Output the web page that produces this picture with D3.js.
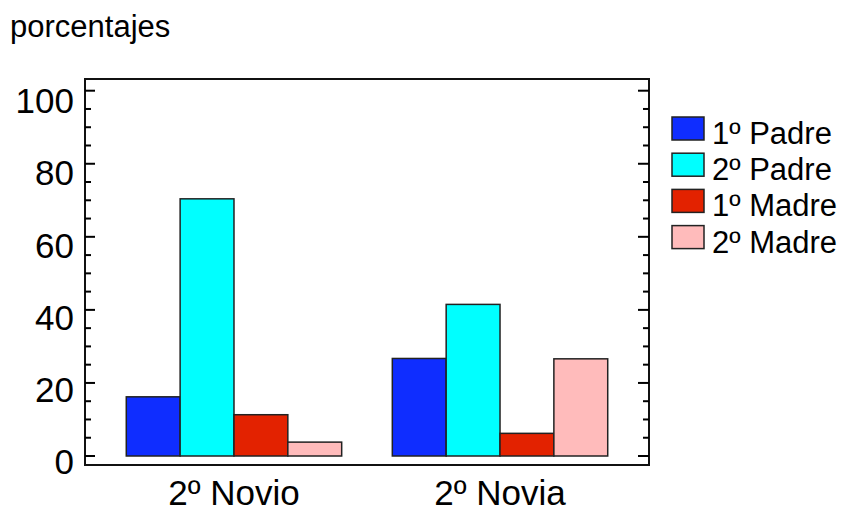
<!DOCTYPE html>
<html><head><meta charset="utf-8">
<script src="https://cdn.jsdelivr.net/npm/d3@7/dist/d3.min.js"></script>
<style>body{margin:0;background:#fff}svg{display:block}text{font-family:"Liberation Sans",Arial,sans-serif;fill:#000}</style>
</head><body>
<svg id="c" width="842" height="512"></svg>
<script>
const groups = ["2º Novio", "2º Novia"];
const series = ["1º Padre", "2º Padre", "1º Madre", "2º Madre"];
const padre1 = [16.2, 26.7];
const padre2 = [70.4, 41.5];
const madre1 = [11.3, 6.2];
const madre2 = [3.8, 26.6];
const colors = ["#0f2dff", "#00ffff", "#e32200", "#ffbbbb"];
const majorTicks = [0, 20, 40, 60, 80, 100];
const minorTicks = d3.range(0, 101, 5).filter(v => v % 20 !== 0);
const yTitle = "porcentajes";

const values = [padre1, padre2, madre1, madre2];
const data = groups.map((g, gi) => ({g, vals: series.map((s, si) => ({s, si, v: values[si][gi]}))}));

const svg = d3.select("#c");
const L = 85, R = 649, T = 79, B = 465;
const y = d3.scaleLinear().domain([0, 100]).range([456, 90.7]);
const yLab = d3.scaleLinear().domain([0, 100]).range([462, 100.5]);
const x = d3.scalePoint().domain(groups).range([L, R]).padding(0.56);
const xi = d3.scaleBand().domain(series).range([-107.7, 107.7]).padding(0);

// bars
const gg = svg.selectAll("g.grp").data(data).join("g")
  .attr("transform", d => `translate(${x(d.g)},0)`);
gg.selectAll("rect").data(d => d.vals).join("rect")
  .attr("x", d => xi(d.s)).attr("width", xi.bandwidth())
  .attr("y", d => y(d.v)).attr("height", d => y(0) - y(d.v))
  .attr("fill", d => colors[d.si]).attr("stroke", "#222").attr("stroke-width", 1.5);

// frame
svg.append("rect").attr("x", L).attr("y", T).attr("width", R - L).attr("height", B - T)
  .attr("fill", "none").attr("stroke", "#111").attr("stroke-width", 2);

// ticks
const tk = svg.append("g").attr("stroke", "#000").attr("stroke-width", 2);
majorTicks.forEach(v => {
  tk.append("line").attr("x1", L).attr("x2", L + 10).attr("y1", y(v)).attr("y2", y(v));
  tk.append("line").attr("x1", R).attr("x2", R - 11).attr("y1", y(v)).attr("y2", y(v));
});
minorTicks.forEach(v => {
  tk.append("line").attr("x1", L).attr("x2", L + 6).attr("y1", y(v)).attr("y2", y(v));
  tk.append("line").attr("x1", R).attr("x2", R - 6).attr("y1", y(v)).attr("y2", y(v));
});

// y labels
svg.selectAll("text.yl").data(majorTicks).join("text").attr("class", "yl")
  .attr("x", 74).attr("y", d => yLab(d)).attr("dy", "0.355em")
  .attr("text-anchor", "end").attr("font-size", 35).text(d => d);

// x labels
svg.selectAll("text.xl").data(groups).join("text").attr("class", "xl")
  .attr("x", d => x(d)).attr("y", 505).attr("text-anchor", "middle")
  .attr("font-size", 35).text(d => d);

// title
svg.append("text").attr("x", 10).attr("y", 37).attr("font-size", 31).text(yTitle);

// legend
const lg = svg.append("g");
series.forEach((s, i) => {
  const yy = 117 + i * 36.2;
  lg.append("rect").attr("x", 672).attr("y", yy).attr("width", 32).attr("height", 23)
    .attr("fill", colors[i]).attr("stroke", "#222").attr("stroke-width", 1.5);
  lg.append("text").attr("x", 712).attr("y", yy + 27).attr("font-size", 31).text(s);
});
</script>
</body></html>
